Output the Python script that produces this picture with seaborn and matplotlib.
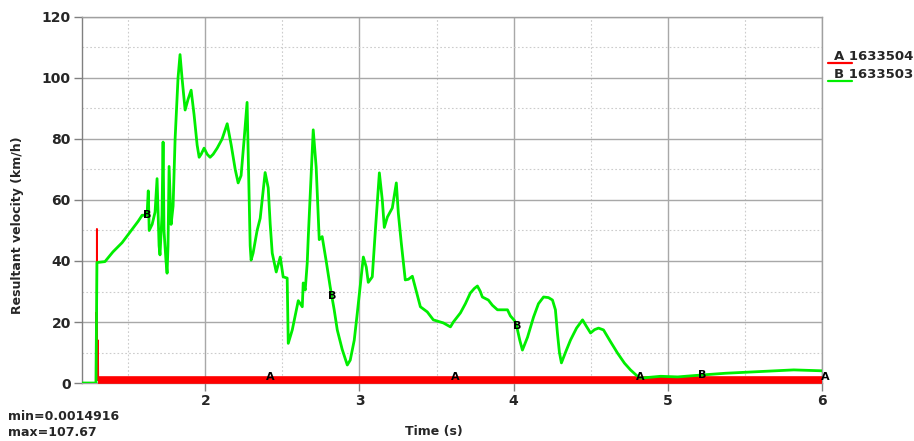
import numpy as np
import pandas as pd
import matplotlib
matplotlib.use("Agg")
import matplotlib.pyplot as plt
from matplotlib.lines import Line2D
from matplotlib.ticker import MultipleLocator
import seaborn as sns

# Node 1633503 (B): resultant velocity over time
time_b = [1.200, 1.291, 1.297, 1.349, 1.401, 1.460, 1.512, 1.564, 1.590, 1.622,
          1.630, 1.636, 1.655, 1.674, 1.687, 1.700, 1.706, 1.719, 1.726, 1.732,
          1.745, 1.752, 1.758, 1.765, 1.778, 1.791, 1.804, 1.823, 1.836, 1.849,
          1.869, 1.888, 1.908, 1.927, 1.947, 1.960, 1.973, 1.992, 2.012, 2.031,
          2.051, 2.077, 2.109, 2.142, 2.168, 2.194, 2.213, 2.232, 2.252, 2.271,
          2.278, 2.291, 2.297, 2.310, 2.336, 2.356, 2.375, 2.388, 2.408, 2.421,
          2.434, 2.460, 2.486, 2.505, 2.531, 2.538, 2.564, 2.603, 2.629, 2.635,
          2.648, 2.661, 2.668, 2.681, 2.700, 2.719, 2.732, 2.739, 2.758, 2.784,
          2.810, 2.836, 2.856, 2.888, 2.921, 2.940, 2.966, 2.986, 3.005, 3.025,
          3.044, 3.057, 3.083, 3.103, 3.129, 3.148, 3.161, 3.181, 3.213, 3.239,
          3.252, 3.271, 3.297, 3.317, 3.343, 3.369, 3.395, 3.440, 3.479, 3.544,
          3.590, 3.609, 3.655, 3.687, 3.719, 3.745, 3.765, 3.784, 3.797, 3.836,
          3.862, 3.895, 3.927, 3.960, 3.979, 4.005, 4.018, 4.040, 4.057, 4.090,
          4.129, 4.161, 4.194, 4.226, 4.252, 4.271, 4.284, 4.297, 4.310, 4.336,
          4.369, 4.408, 4.447, 4.473, 4.499, 4.525, 4.551, 4.583, 4.629, 4.674,
          4.719, 4.758, 4.797, 4.823, 4.869, 4.953, 5.064, 5.213, 5.375, 5.538,
          5.817, 6.000]
vel_b = [0.0, 0.0, 39.5, 39.8, 43.0, 46.0, 49.5, 53.0, 55.0, 55.0,
         63.0, 50.0, 52.0, 56.0, 67.0, 45.0, 42.0, 55.0, 79.0, 50.0,
         40.0, 36.0, 45.0, 71.0, 52.0, 58.0, 80.0, 100.0, 107.67, 100.0,
         89.5, 93.0, 96.0, 88.0, 78.0, 74.0, 75.0, 77.0, 75.0, 74.0,
         75.0, 77.0, 80.0, 85.0, 78.0, 70.0, 65.6, 68.0, 80.0, 92.0,
         75.0, 45.0, 40.3, 42.6, 50.0, 54.0, 63.0, 69.0, 64.0, 52.0,
         42.6, 36.4, 41.3, 34.8, 34.4, 13.0, 17.4, 27.0, 25.0, 32.8,
         30.5, 39.3, 48.0, 62.0, 83.0, 70.8, 55.0, 47.0, 48.0, 40.0,
         31.5, 24.0, 17.4, 11.0, 5.9, 7.5, 14.0, 23.0, 32.0, 41.3,
         38.0, 33.0, 34.8, 50.0, 68.9, 60.0, 51.0, 54.4, 57.4, 65.6,
         55.7, 46.0, 33.8, 34.0, 35.0, 30.0, 25.0, 23.3, 20.7, 19.7,
         18.4, 20.0, 23.0, 26.0, 29.5, 31.0, 31.8, 30.0, 28.2, 27.2,
         25.5, 24.0, 24.0, 24.0, 22.0, 20.5, 19.0, 14.0, 10.8, 15.0,
         21.6, 26.0, 28.2, 28.0, 27.2, 24.0, 16.4, 10.0, 6.6, 10.0,
         14.1, 18.0, 20.7, 18.5, 16.4, 17.5, 18.0, 17.4, 13.5, 9.8,
         6.5, 4.3, 2.5, 1.6, 1.8, 2.2, 2.0, 2.6, 3.2, 3.6,
         4.3, 4.0]

# Node 1633504 (A): resultant velocity over time
time_a = [1.290, 1.291, 1.292, 1.294, 1.296, 1.297, 1.298, 1.301, 1.303, 1.305, 6.000]
vel_a = [0.0015, 23.0, 1.0, 1.0, 1.0, 50.5, 1.0, 1.0, 14.0, 1.0, 1.0]

series_names = ["A 1633504", "B 1633503"]
series_colors = ["#ff0000", "#00ee00"]
x_ticks = [2, 3, 4, 5, 6]
y_ticks = [0, 20, 40, 60, 80, 100, 120]

df_a = pd.DataFrame({"Time": time_a, "Velocity": vel_a})
df_b = pd.DataFrame({"Time": time_b, "Velocity": vel_b})
# After the initial impact spike node A stays near rest
df_a_rest = df_a[df_a["Time"] >= 1.305]

sns.set_style("white")
plt.rcParams["font.family"] = ["DejaVu Sans"]
plt.rcParams["font.weight"] = "bold"

fig = plt.figure(figsize=(9.14, 4.41), dpi=100)
ax = fig.add_axes([0.0897, 0.1315, 0.8096, 0.8300])

sns.lineplot(data=df_a, x="Time", y="Velocity", ax=ax, color=series_colors[0],
             linewidth=1.4, estimator=None, sort=False, zorder=3)
sns.lineplot(data=df_a_rest, x="Time", y="Velocity", ax=ax, color=series_colors[0],
             linewidth=5.5, estimator=None, sort=False, clip_on=False,
             solid_capstyle="butt", zorder=3)
sns.lineplot(data=df_b, x="Time", y="Velocity", ax=ax, color=series_colors[1],
             linewidth=2.0, estimator=None, sort=False, zorder=4)

ax.set_xlim(1.2, 6.0)
ax.set_ylim(0, 120)
ax.set_xticks(x_ticks)
ax.set_yticks(y_ticks)
ax.xaxis.set_minor_locator(MultipleLocator(0.5))
ax.yaxis.set_minor_locator(MultipleLocator(10))
ax.grid(which="major", color="#a8a8a8", linewidth=1.0, linestyle="-")
ax.grid(which="minor", color="#cccccc", linewidth=0.8, linestyle=(0, (1.5, 2)))
ax.set_axisbelow(True)

for side in ["left", "bottom", "top", "right"]:
    ax.spines[side].set_color("#a0a0a0")
    ax.spines[side].set_linewidth(1.0)
ax.spines["left"].set_color("#808080")

ax.tick_params(which="major", direction="out", length=6, width=1, color="#808080",
               labelsize=10, left=True, bottom=True, pad=2)
ax.tick_params(which="minor", length=0)
for lbl in ax.get_xticklabels() + ax.get_yticklabels():
    lbl.set_fontweight("bold")

ax.set_xlabel("Time (s)", fontsize=9, fontweight="bold")
ax.set_ylabel("Resultant velocity (km/h)", fontsize=9, fontweight="bold")
ax.xaxis.set_label_coords(0.476, -0.115)
ax.yaxis.set_label_coords(-0.078, 0.43)

# Curve identifiers placed along each line every 1.2 s
for t in [2.42, 3.62, 4.82, 6.02]:
    ax.text(t, 2.0, "A", ha="center", va="center", fontsize=8, color="black",
            clip_on=False, zorder=6)
for t in [1.62, 2.82, 4.02, 5.22]:
    v = float(np.interp(t, time_b, vel_b))
    ax.text(t, v, "B", ha="center", va="center", fontsize=8, color="black",
            zorder=6)

# Legend to the right of the plot area
for i, (name, col) in enumerate(zip(series_names, series_colors)):
    y = 0.872 - i * 0.04
    fig.text(0.912, y, name, fontsize=9.5, fontweight="bold", ha="left", va="center")
    fig.add_artist(Line2D([0.906, 0.932], [y - 0.015, y - 0.015], color=col,
                          linewidth=1.6, transform=fig.transFigure))

fig.text(0.009, 0.055, "min=0.0014916", fontsize=9, fontweight="bold", ha="left", va="center")
fig.text(0.009, 0.020, "max=107.67", fontsize=9, fontweight="bold", ha="left", va="center")

fig.savefig("out.png", dpi=100)
